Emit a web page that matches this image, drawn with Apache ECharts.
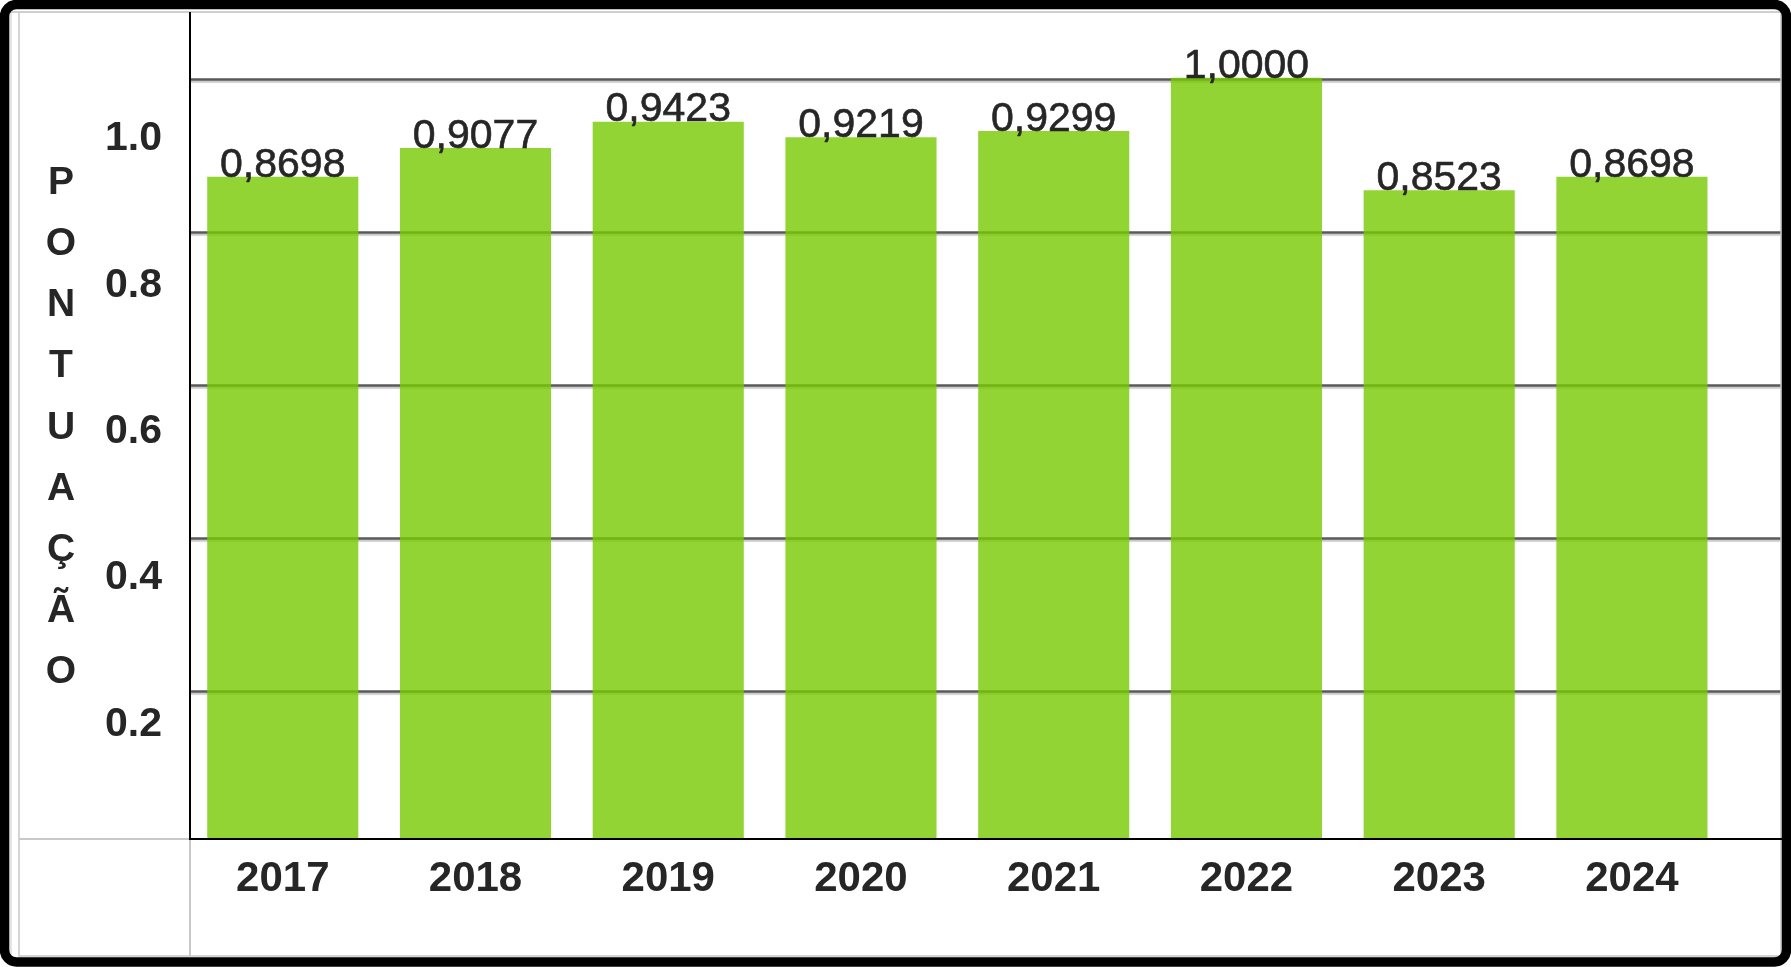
<!DOCTYPE html>
<html>
<head>
<meta charset="utf-8">
<style>
  html, body { margin: 0; padding: 0; background: #ffffff; }
  #chart { width: 1791px; height: 967px; }
</style>
<script src="https://cdn.jsdelivr.net/npm/echarts@6/dist/echarts.min.js"></script>
</head>
<body>
<div id="chart"></div>
<script>
const years = ['2017', '2018', '2019', '2020', '2021', '2022', '2023', '2024'];
const scores = [0.8698, 0.9077, 0.9423, 0.9219, 0.9299, 1.0000, 0.8523, 0.8698];
const yTickValues = [0.2, 0.4, 0.6, 0.8, 1.0];
const yAxisTitle = 'PONTUAÇÃO';

const FONT = "'Liberation Sans', Arial, sans-serif";
const TEXT = '#262626';

const chart = echarts.init(document.getElementById('chart'), null, { renderer: 'canvas' });

chart.setOption({
  animation: false,
  backgroundColor: '#ffffff',
  grid: [
    { left: 186.4, right: 62.7, top: 77.7, bottom: 128 },   // bars
    { left: 190, right: 10, top: 12, bottom: 123.3 },       // gridlines + name
    { left: 190, right: 10, top: 138.8, bottom: 96.2 }      // y tick labels
  ],
  xAxis: [
    {
      type: 'category', gridIndex: 0, data: years,
      axisLine: { show: false }, axisTick: { show: false },
      axisLabel: { fontFamily: FONT, fontSize: 42, fontWeight: 'bold', color: TEXT, margin: 19 }
    },
    { type: 'value', gridIndex: 1, show: false },
    { type: 'value', gridIndex: 2, show: false }
  ],
  yAxis: [
    { type: 'value', gridIndex: 0, min: 0, max: 1, show: false },
    {
      type: 'value', gridIndex: 1, min: 0, max: 1.088, interval: 0.2,
      axisLine: { show: false }, axisTick: { show: false }, axisLabel: { show: false },
      splitLine: {
        show: true, showMinLine: false, showMaxLine: false,
        lineStyle: { color: '#5a5a5a', width: 2.5, shadowColor: 'rgba(0,0,0,0.22)', shadowOffsetY: 2, shadowBlur: 1 }
      },
      name: yAxisTitle.split('').join('\n'),
      nameLocation: 'middle', nameRotate: 0, nameGap: 129,
      nameTextStyle: {
        fontFamily: FONT, fontSize: 39, fontWeight: 'bold', color: TEXT,
        lineHeight: 61.2, align: 'center', verticalAlign: 'middle'
      }
    },
    {
      type: 'value', gridIndex: 2, min: 0, max: 1, interval: 0.2,
      axisLine: { show: false }, axisTick: { show: false }, splitLine: { show: false },
      axisLabel: {
        customValues: yTickValues,
        formatter: v => v.toFixed(1),
        fontFamily: FONT, fontSize: 41, fontWeight: 'bold', color: TEXT, margin: 28
      }
    }
  ],
  series: [{
    type: 'bar',
    xAxisIndex: 0, yAxisIndex: 0,
    data: scores,
    barWidth: '78.4%',
    itemStyle: { color: 'rgba(119,201,0,0.8)' },
    label: {
      show: true, position: 'top', distance: -9,
      formatter: p => p.value.toFixed(4).replace('.', ','),
      fontFamily: FONT, fontSize: 41, color: TEXT,
      textBorderColor: TEXT, textBorderWidth: 0.6
    }
  }],
  graphic: [
    // inner light frame
    { type: 'rect', z: 100, silent: true, shape: { x: 9, y: 9, width: 3, height: 948 }, style: { fill: '#e4e4e4' } },
    { type: 'rect', z: 100, silent: true, shape: { x: 19, y: 12, width: 1762, height: 944 }, style: { fill: 'none', stroke: '#c8c8c8', lineWidth: 1.5 } },
    { type: 'line', z: 100, silent: true, shape: { x1: 9, y1: 12, x2: 1782, y2: 12 }, style: { stroke: '#cfcfcf', lineWidth: 2 } },
    // table lines
    { type: 'line', z: 100, silent: true, shape: { x1: 19, y1: 839, x2: 190, y2: 839 }, style: { stroke: '#c8c8c8', lineWidth: 2 } },
    { type: 'line', z: 100, silent: true, shape: { x1: 190, y1: 839, x2: 190, y2: 956 }, style: { stroke: '#c8c8c8', lineWidth: 2 } },
    // axis lines
    { type: 'line', z: 101, silent: true, shape: { x1: 190, y1: 12, x2: 190, y2: 840 }, style: { stroke: '#000', lineWidth: 2 } },
    { type: 'line', z: 101, silent: true, shape: { x1: 189, y1: 839, x2: 1782, y2: 839 }, style: { stroke: '#000', lineWidth: 2 } },
    // outer black border
    { type: 'rect', z: 102, silent: true, shape: { x: 4.5, y: 4.5, width: 1782, height: 957.5, r: 12 }, style: { fill: 'none', stroke: '#000', lineWidth: 9.5 } }
  ]
});
</script>
</body>
</html>
